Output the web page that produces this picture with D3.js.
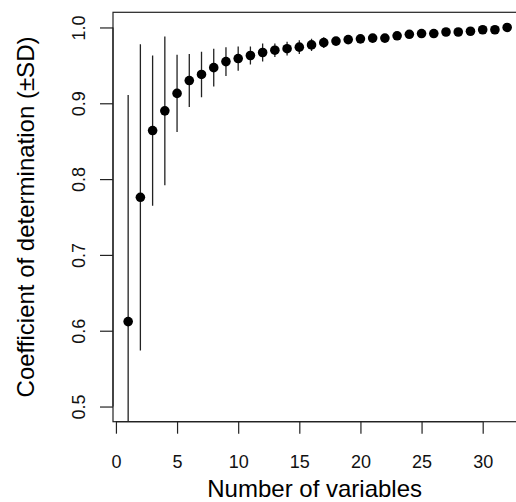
<!DOCTYPE html>
<html><head><meta charset="utf-8">
<script src="https://cdn.jsdelivr.net/npm/d3@7"></script>
<style>html,body{margin:0;padding:0;background:#fff;overflow:hidden}</style>
</head><body>
<script>
const nVars = d3.range(1, 33);
const means = [0.612,0.776,0.864,0.890,0.913,0.930,0.938,0.947,0.955,0.959,
               0.963,0.967,0.970,0.972,0.974,0.977,0.980,0.982,0.984,0.985,
               0.986,0.986,0.989,0.991,0.992,0.992,0.994,0.994,0.995,0.997,
               0.997,1.000];
const sds = [0.299,0.202,0.099,0.098,0.051,0.035,0.030,0.025,0.019,0.016,
             0.012,0.012,0.009,0.009,0.009,0.008,0.007,0.005,0.004,0.003,
             0.003,0.003,0.002,0.002,0.002,0.002,0.002,0.001,0.001,0.001,
             0.001,0.000];
const xTicks = [0,5,10,15,20,25,30];
const yTicks = [0.5,0.6,0.7,0.8,0.9,1.0];
const xTitle = "Number of variables";
const yTitle = "Coefficient of determination (±SD)";

const W = 516, H = 502;
const L = 113, R = 522.3, T = 12.3, B = 421.7;
const svg = d3.select("body").append("svg").attr("width", W).attr("height", H);
const x = d3.scaleLinear().domain([-0.24, 33.24]).range([L, R]);
const y = d3.scaleLinear().domain([0.48, 1.02]).range([B, T]);
const font = "'Liberation Sans', Arial, sans-serif";

svg.append("clipPath").attr("id","clip").append("rect")
  .attr("x", L).attr("y", T).attr("width", R - L).attr("height", B - T);

const data = nVars.map((v,i)=>({v, m: means[i], s: sds[i]}));
const g = svg.append("g").attr("clip-path","url(#clip)");
g.selectAll("line.eb").data(data).enter().append("line")
  .attr("class","eb")
  .attr("x1", d=>x(d.v)).attr("x2", d=>x(d.v))
  .attr("y1", d=>y(d.m + d.s)).attr("y2", d=>y(d.m - d.s))
  .attr("stroke","#222").attr("stroke-width",1.3);
g.selectAll("circle").data(data).enter().append("circle")
  .attr("cx", d=>x(d.v)).attr("cy", d=>y(d.m)).attr("r", 4.8)
  .attr("fill","#000");

// box
svg.append("rect").attr("x", L).attr("y", T).attr("width", R - L).attr("height", B - T)
  .attr("fill","none").attr("stroke","#222").attr("stroke-width",1.2);

// x axis
const xAxis = d3.axisBottom(x).tickValues(xTicks).tickSize(12).tickPadding(0).tickFormat(d3.format("d"));
const gx = svg.append("g").attr("transform",`translate(0,${B})`).call(xAxis);
gx.select(".domain").attr("stroke","#222").attr("stroke-width",1.2)
  .attr("d", `M${x(0)},0H${x(30)}`);
gx.selectAll(".tick line").attr("stroke","#222").attr("stroke-width",1.2);
gx.selectAll(".tick text").attr("y", 46).attr("dy", null)
  .attr("font-family", font).attr("font-size", 18).attr("fill","#111");

// y axis
const yAxis = d3.axisLeft(y).tickValues(yTicks).tickSize(13).tickFormat(d3.format(".1f"));
const gy = svg.append("g").attr("transform",`translate(${L},0)`).call(yAxis);
gy.select(".domain").attr("stroke","#222").attr("stroke-width",1.2)
  .attr("d", `M0,${y(0.5)}V${y(1.0)}`);
gy.selectAll(".tick line").attr("stroke","#222").attr("stroke-width",1.2);
gy.selectAll(".tick text")
  .attr("x", null).attr("dy", null)
  .attr("transform", "translate(-28,0) rotate(-90)")
  .attr("text-anchor","middle")
  .attr("font-family", font).attr("font-size", 18).attr("fill","#111");

// titles
svg.append("text").attr("x", (L + R) / 2 - 3).attr("y", 497)
  .attr("text-anchor","middle").attr("font-family", font).attr("font-size", 24)
  .attr("fill","#000").text(xTitle);
svg.append("text").attr("transform", `translate(34,${(T + B) / 2}) rotate(-90)`)
  .attr("text-anchor","middle").attr("font-family", font).attr("font-size", 24)
  .attr("fill","#000").text(yTitle);
</script>
</body></html>
